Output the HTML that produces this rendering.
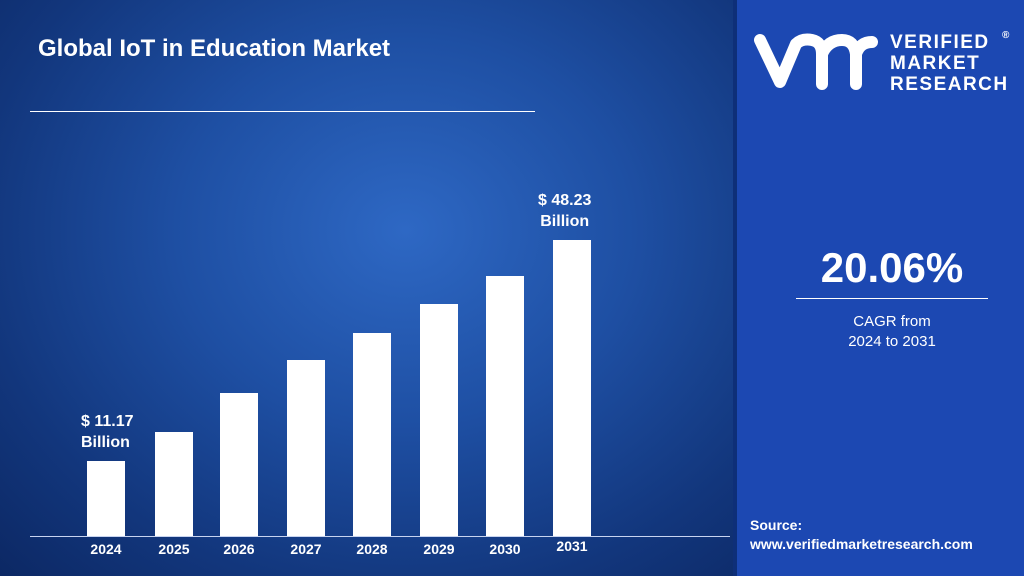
<!DOCTYPE html>
<html><head><style>
body{margin:0;width:1024px;height:576px;overflow:hidden;font-family:"Liberation Sans",sans-serif;}
.l{position:absolute;left:0;top:0;width:737px;height:576px;background:radial-gradient(ellipse at 55% 40%,#2e68c4 0%,#1e4fa3 40%,#12367c 75%,#0c2864 100%);}
.r{position:absolute;left:737px;top:0;width:287px;height:576px;background:#1c48b2;}
.sep{position:absolute;left:733px;top:0;width:4px;height:576px;background:#0e2f78;}
.bar{position:absolute;background:#fff;width:38px;bottom:40px;}
.t{position:absolute;color:#fff;font-weight:bold;}
.yr{position:absolute;top:541px;width:60px;text-align:center;color:#fff;font-weight:bold;font-size:14px;}
</style></head><body>
<div class="l"></div>
<div class="sep"></div>
<div class="r"></div>
<div class="t" style="left:38px;top:35px;font-size:24px;">Global IoT in Education Market</div>
<div style="position:absolute;left:30px;top:111px;width:505px;height:1px;background:#fff;"></div>
<div class="bar" style="left:87px;top:461px"></div>
<div class="bar" style="left:155px;top:432px"></div>
<div class="bar" style="left:220px;top:393px"></div>
<div class="bar" style="left:287px;top:360px"></div>
<div class="bar" style="left:353px;top:333px"></div>
<div class="bar" style="left:420px;top:304px"></div>
<div class="bar" style="left:486px;top:276px"></div>
<div class="bar" style="left:553px;top:240px"></div>
<div style="position:absolute;left:30px;top:536px;width:700px;height:1px;background:#c8d4f0;"></div>
<div class="yr" style="left:76px">2024</div><div class="yr" style="left:144px">2025</div>
<div class="yr" style="left:209px">2026</div><div class="yr" style="left:276px">2027</div>
<div class="yr" style="left:342px">2028</div><div class="yr" style="left:409px">2029</div>
<div class="yr" style="left:475px">2030</div><div class="yr" style="left:542px;top:538px">2031</div>
<div class="t" style="left:81px;top:411px;font-size:16px;line-height:21px;">$ 11.17<br>Billion</div>
<div class="t" style="left:538px;top:190px;font-size:16px;line-height:21px;text-align:center;">$ 48.23<br>Billion</div>
<svg style="position:absolute;left:754px;top:32px" width="124" height="58" viewBox="0 0 124 58">
<path d="M6 8 L26 50 L42 12 Q48 6 58 8 Q68 10 68 22 L68 52 M68 22 Q74 8 88 8 Q100 8 102 22 L102 52 M102 22 Q106 10 118 10" fill="none" stroke="#fff" stroke-width="12" stroke-linecap="round" stroke-linejoin="round"/>
</svg>
<div class="t" style="left:890px;top:32px;font-size:19px;line-height:21px;letter-spacing:1.5px;">VERIFIED<br>MARKET<br>RESEARCH</div>
<div class="t" style="left:1002px;top:30px;font-size:10px;">®</div>
<div class="t" style="left:796px;top:244px;width:192px;text-align:center;font-size:42px;">20.06%</div>
<div style="position:absolute;left:796px;top:298px;width:192px;height:1px;background:#fff;"></div>
<div style="position:absolute;left:796px;top:312px;width:192px;text-align:center;color:#fff;font-size:15px;line-height:20px;">CAGR from<br>2024 to 2031</div>
<div class="t" style="left:750px;top:516px;font-size:14px;line-height:19px;">Source:<br>www.verifiedmarketresearch.com</div>
</body></html>
